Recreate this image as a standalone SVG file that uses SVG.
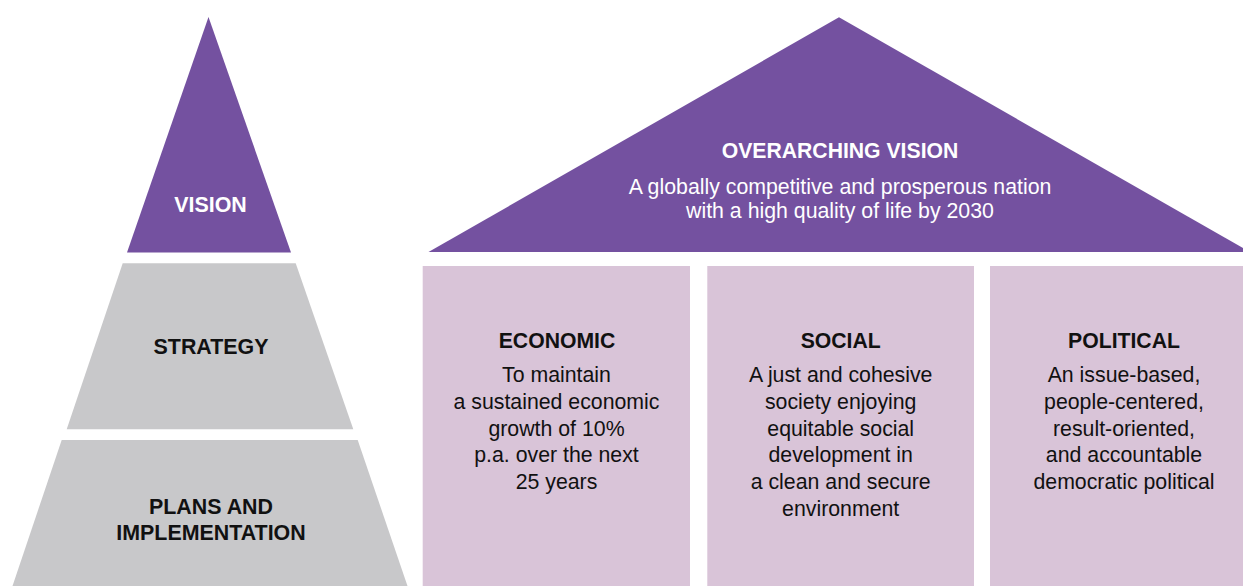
<svg xmlns="http://www.w3.org/2000/svg" width="1243" height="586" viewBox="0 0 1243 586">
  <style>
    .purple { fill: #7451A0; }
    .gray { fill: #C8C8CA; }
    .pillar { fill: #D9C4D8; }
    text { font-family: "Liberation Sans", Arial, sans-serif; text-anchor: middle; }
    .hw { fill: #FFFFFF; font-weight: bold; font-size: 21.4px; }
    .hb { fill: #111111; font-weight: bold; font-size: 21.4px; }
    .roofh { fill: #FFFFFF; font-weight: bold; font-size: 21.2px; }
    .roofb { fill: #FFFFFF; font-size: 21.3px; }
    .ph { fill: #111111; font-weight: bold; font-size: 21.2px; }
    .pb { fill: #111111; font-size: 21.3px; }
  </style>
  <rect x="0" y="0" width="1243" height="586" fill="#FFFFFF"/>

  <g id="pyramid-vision">
    <polygon class="purple" points="208.5,17 127,252.5 291,252.5"/>
    <text class="hw" x="210.5" y="211.5">VISION</text>
  </g>
  <g id="pyramid-strategy">
    <polygon class="gray" points="122.7,263.3 295.7,263.3 353.3,429.3 66.7,429.3"/>
    <text class="hb" x="211" y="354">STRATEGY</text>
  </g>
  <g id="pyramid-plans">
    <polygon class="gray" points="61.7,440 357.7,440 407.5,586 12.5,586"/>
    <text class="hb" x="211" y="513.5">PLANS AND</text>
    <text class="hb" x="211" y="539.5">IMPLEMENTATION</text>
  </g>

  <g id="roof">
    <polygon class="purple" points="839,17.3 428.5,252 1250,252"/>
    <text class="roofh" x="840" y="158">OVERARCHING VISION</text>
    <text class="roofb" x="840" y="194">A globally competitive and prosperous nation</text>
    <text class="roofb" x="840" y="218">with a high quality of life by 2030</text>
  </g>

  <g id="pillar-economic">
    <rect class="pillar" x="422.7" y="266" width="267.3" height="320"/>
    <text class="ph" x="557" y="348">ECONOMIC</text>
    <text class="pb" x="556.5" y="382.3">To maintain</text>
    <text class="pb" x="556.5" y="409">a sustained economic</text>
    <text class="pb" x="556.5" y="435.7">growth of 10%</text>
    <text class="pb" x="556.5" y="462.3">p.a. over the next</text>
    <text class="pb" x="556.5" y="489">25 years</text>
  </g>

  <g id="pillar-social">
    <rect class="pillar" x="707.3" y="266" width="266.7" height="320"/>
    <text class="ph" x="840.7" y="348">SOCIAL</text>
    <text class="pb" x="840.7" y="382.3">A just and cohesive</text>
    <text class="pb" x="840.7" y="409">society enjoying</text>
    <text class="pb" x="840.7" y="435.7">equitable social</text>
    <text class="pb" x="840.7" y="462.3">development in</text>
    <text class="pb" x="840.7" y="489">a clean and secure</text>
    <text class="pb" x="840.7" y="515.7">environment</text>
  </g>

  <g id="pillar-political">
    <rect class="pillar" x="990" y="266" width="267" height="320"/>
    <text class="ph" x="1124" y="348">POLITICAL</text>
    <text class="pb" x="1124" y="382.3">An issue-based,</text>
    <text class="pb" x="1124" y="409">people-centered,</text>
    <text class="pb" x="1124" y="435.7">result-oriented,</text>
    <text class="pb" x="1124" y="462.3">and accountable</text>
    <text class="pb" x="1124" y="489">democratic political</text>
  </g>

  <g id="connectors"></g>
</svg>
